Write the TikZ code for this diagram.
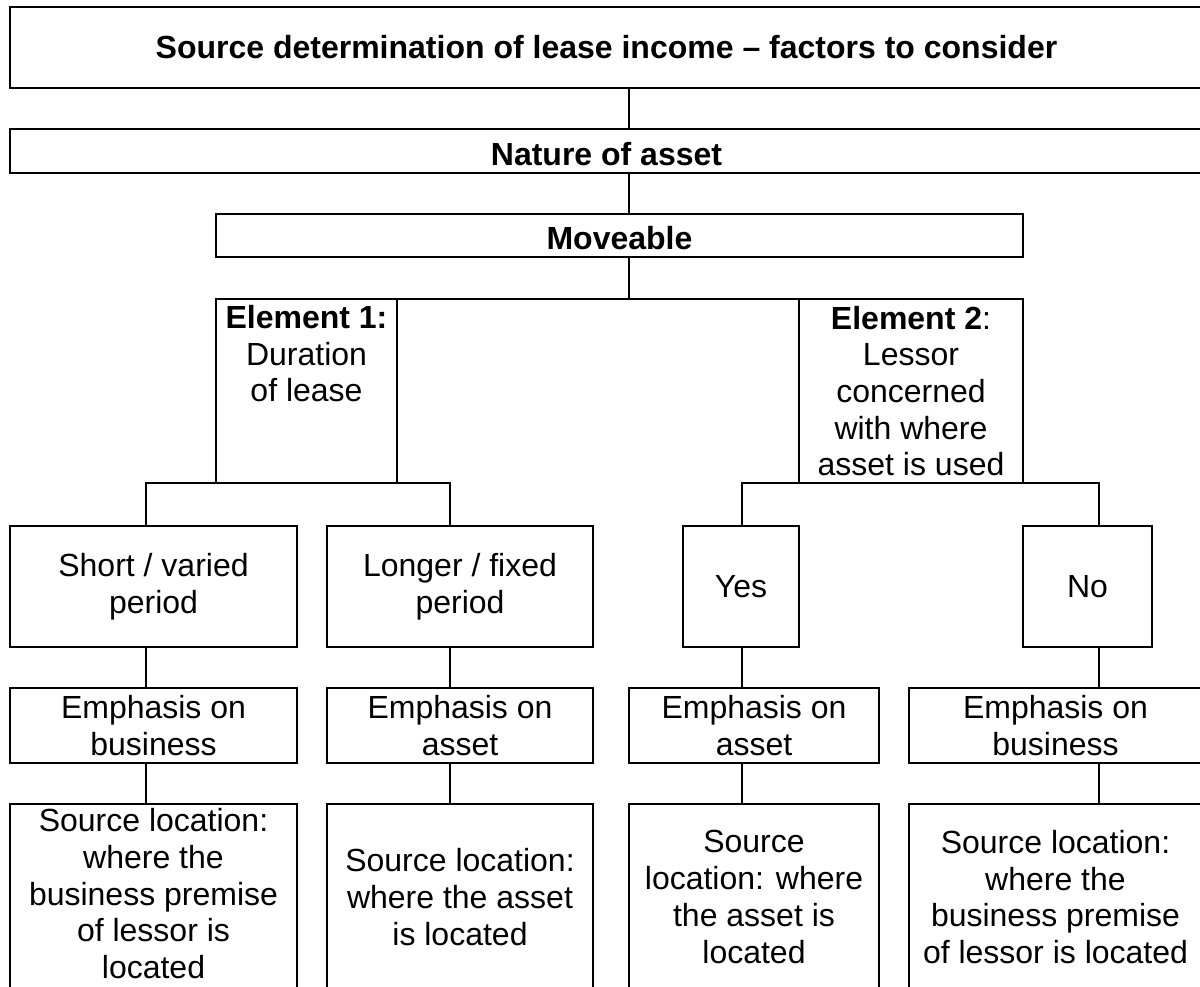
\documentclass[tikz,border=0pt]{standalone}
\usepackage{fontspec}
\setmainfont{Liberation Sans}
\begin{document}
\begin{tikzpicture}[x=1pt,y=-1pt,
  txt/.style={font=\fontsize{32}{36.7}\selectfont},
  box/.style={draw, rectangle, line width=2pt, inner sep=0pt, outer sep=0pt, align=center, txt},
  hdr/.style={box, font=\fontsize{32}{36.7}\selectfont\bfseries},
  link/.style={line width=2pt},
  thinlink/.style={line width=1.5pt}]
\fill[white] (0,0) rectangle (1200,986);
\useasboundingbox (0,0) rectangle (1200,986);

% x positions of the vertical connectors
\coordinate (dM) at (629,0);
\coordinate (dA) at (146,0);
\coordinate (dB) at (450,0);
\coordinate (dC) at (742,0);
\coordinate (dD) at (1099,0);

% header rows
\node[hdr, minimum width=1193pt, minimum height=81pt] (title) at (606.5,47.5)
  {Source determination of lease income – factors to consider};
\node[hdr, minimum width=1193pt, minimum height=44pt, text height=28.5pt, text depth=0pt] (nature) at (606.5,151)
  {Nature of asset};
\node[hdr, minimum width=807pt, minimum height=43pt, text height=28pt, text depth=0pt] (move) at (619.5,235.5)
  {Moveable};

% the two elements
\node[box, minimum width=181pt, minimum height=184pt] (el1) at (306.5,391) {};
\node[txt, anchor=north, inner sep=0pt, align=center] (el1text) at ([yshift=-6pt]el1.north)
  {\textbf{Element 1:}\\Duration\\of lease};
\node[box, minimum width=224pt, minimum height=184pt] (el2) at (911,391)
  {\textbf{Element 2}:\\Lessor\\concerned\\with where\\asset is used};

% outcomes
\node[box, minimum width=287pt, minimum height=121pt] (short) at (153.5,586.5) {Short / varied\\period};
\node[box, minimum width=266pt, minimum height=121pt] (longer) at (460,586.5) {Longer / fixed\\period};
\node[box, minimum width=116pt, minimum height=121pt] (yes) at (741,586.5) {Yes};
\node[box, minimum width=129pt, minimum height=121pt] (no) at (1087.5,586.5) {No};

% emphasis
\node[box, minimum width=287pt, minimum height=75pt] (em1) at (153.5,725.5) {Emphasis on\\business};
\node[box, minimum width=266pt, minimum height=75pt] (em2) at (460,725.5) {Emphasis on\\asset};
\node[box, minimum width=250pt, minimum height=75pt] (em3) at (754,725.5) {Emphasis on\\asset};
\node[box, minimum width=293pt, minimum height=75pt] (em4) at (1055.5,725.5) {Emphasis on\\business};

% source location
\node[box, minimum width=287pt, minimum height=186pt, text depth=7pt] (src1) at (153.5,897)
  {Source location:\\where the\\business premise\\of lessor is\\located};
\node[box, minimum width=266pt, minimum height=186pt] (src2) at (460,897)
  {Source location:\\where the asset\\is located};
\node[box, minimum width=250pt, minimum height=186pt] (src3) at (754,897)
  {Source\\location: where\\the asset is\\located};
\node[box, minimum width=293pt, minimum height=186pt] (src4) at (1055.5,897)
  {Source location:\\where the\\business premise\\of lessor is located};

% connectors
\draw[thinlink] (title.south -| dM) -- (nature.north -| dM);
\draw[thinlink] (nature.south -| dM) -- (move.north -| dM);
\draw[thinlink] (move.south -| dM) -- (el1.north -| dM);
\draw[link] (el1.north east) -- (el2.north west);

\draw[link] (short.north -| dA) -- (el1.south -| dA) -- (el1.south -| dB) -- (longer.north -| dB);
\draw[link] (yes.north -| dC) -- (el2.south -| dC) -- (el2.south -| dD) -- (no.north -| dD);

\draw[link] (short.south -| dA) -- (em1.north -| dA);
\draw[link] (longer.south -| dB) -- (em2.north -| dB);
\draw[link] (yes.south -| dC) -- (em3.north -| dC);
\draw[link] (no.south -| dD) -- (em4.north -| dD);

\draw[link] (em1.south -| dA) -- (src1.north -| dA);
\draw[link] (em2.south -| dB) -- (src2.north -| dB);
\draw[link] (em3.south -| dC) -- (src3.north -| dC);
\draw[link] (em4.south -| dD) -- (src4.north -| dD);
\end{tikzpicture}
\end{document}
